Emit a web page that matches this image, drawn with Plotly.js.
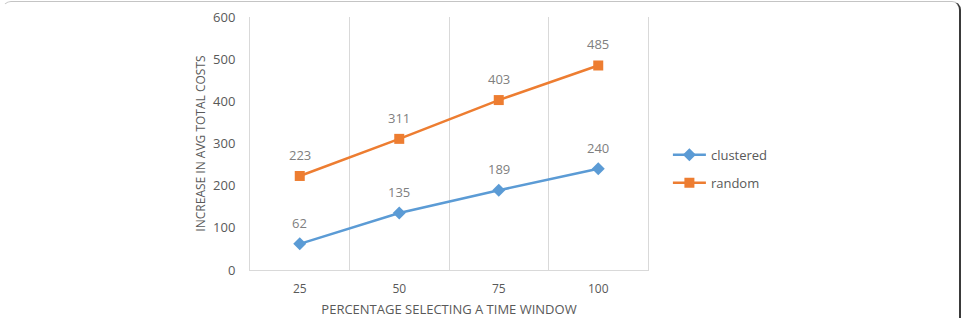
<!DOCTYPE html>
<html>
<head>
<meta charset="utf-8">
<script src="https://cdn.plot.ly/plotly-3.0.1.min.js"></script>
<style>
html,body{margin:0;padding:0;background:#fff;}
#wrap{position:relative;width:969px;height:318px;overflow:hidden;}
#chart{width:969px;height:318px;}
#frame{position:absolute;left:2px;top:1px;width:956px;height:340px;border-top:1px solid #c4c4c4;border-right:2px solid #3a3a3a;border-top-right-radius:9px;border-top-left-radius:9px;border-left:1px solid transparent;pointer-events:none;}
</style>
</head>
<body>
<div id="wrap"><div id="chart"></div><div id="frame"></div></div>
<script>
var categories = ['25', '50', '75', '100'];
var clustered = [62, 135, 189, 240];
var random = [223, 311, 403, 485];
var seriesNames = ['clustered', 'random'];
var yTicks = [0, 100, 200, 300, 400, 500, 600];

var font = 'Open Sans, Noto Sans, sans-serif';
var labelColor = '#7f7f7f';
var traces = [
  {
    x: categories, y: clustered, name: seriesNames[0], legendgroup: 'a', type: 'scatter', mode: 'lines+markers',
    line: {color: '#5B9BD5', width: 2.5},
    marker: {symbol: 'diamond', size: 10, color: '#5B9BD5'},
    cliponaxis: false
  },
  {
    x: categories, y: random, name: seriesNames[1], legendgroup: 'b', type: 'scatter', mode: 'lines+markers',
    line: {color: '#ED7D31', width: 2.5},
    marker: {symbol: 'square', size: 10, color: '#ED7D31'},
    cliponaxis: false
  }
];

var annotations = [];
[clustered, random].forEach(function (series) {
  series.forEach(function (v, i) {
    annotations.push({
      x: i, y: v, xref: 'x', yref: 'y', text: String(v), showarrow: false,
      yshift: 21, font: {family: font, size: 13, color: labelColor}
    });
  });
});

var layout = {
  width: 969, height: 318,
  margin: {l: 250, r: 321, t: 17, b: 48},
  paper_bgcolor: '#fff', plot_bgcolor: '#fff',
  font: {family: font, size: 11, color: '#595959'},
  showlegend: true,
  legend: {x: 1.05, y: 0.40, xanchor: 'left', yanchor: 'middle', font: {family: font, size: 13, color: '#595959'}, tracegroupgap: 8, itemwidth: 33},
  annotations: annotations,
  xaxis: {
    type: 'category', range: [-0.5, 3.5], tickson: 'boundaries', showgrid: true, gridcolor: '#d9d9d9', gridwidth: 1,
    showline: true, linecolor: '#d9d9d9', ticks: '', zeroline: false,
    tickfont: {family: font, size: 12, color: '#595959'}, ticklabelstandoff: 8,
    title: {text: 'PERCENTAGE SELECTING A TIME WINDOW', font: {family: font, size: 13, color: '#595959'}, standoff: 10},
    fixedrange: true
  },
  yaxis: {
    range: [0, 600], tickvals: yTicks, showgrid: false, zeroline: false, showline: true, mirror: true, linecolor: '#d9d9d9', ticks: '',
    tickfont: {family: font, size: 13, color: '#595959'}, ticklabelstandoff: 11,
    title: {text: 'INCREASE IN AVG TOTAL COSTS', font: {family: font, size: 12, color: '#595959'}, standoff: 4},
    fixedrange: true
  }
};

Plotly.newPlot('chart', traces, layout, {displayModeBar: false, staticPlot: true});
</script>
</body>
</html>
